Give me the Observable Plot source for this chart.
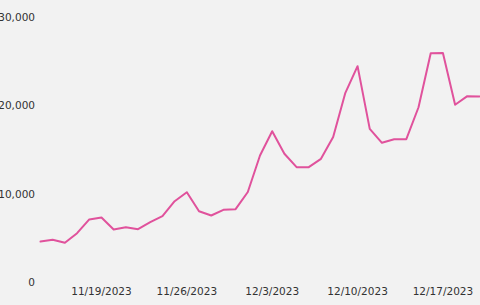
<!DOCTYPE html>
<html>
<head>
<meta charset="utf-8">
<script src="https://cdn.jsdelivr.net/npm/d3@7"></script>
<script src="https://cdn.jsdelivr.net/npm/@observablehq/plot@0.6"></script>
<style>
  html, body { margin: 0; padding: 0; background: #f2f2f2; overflow: hidden; }
  #chart svg { display: block; }
</style>
</head>
<body>
<div id="chart"></div>
<script>
const startDate = "2023-11-14";
const values = [
  4690, 4880, 4540, 5630, 7180, 7400, 6040, 6310, 6080, 6870,
  7550, 9240, 10260, 8110, 7630, 8270, 8340, 10280, 14410, 17150,
  14600, 13090, 13090, 14030, 16500, 21490, 24500, 17420, 15840, 16250,
  16250, 19860, 25970, 26000, 20140, 21110, 21080
];
const tickDates = ["2023-11-19", "2023-11-26", "2023-12-03", "2023-12-10", "2023-12-17"];
const yTicks = [0, 10000, 20000, 30000];

const start = new Date(startDate + "T00:00:00Z");
const data = values.map((v, i) => ({ date: d3.utcDay.offset(start, i), value: v }));
const xTicks = tickDates.map(s => new Date(s + "T00:00:00Z"));
const fmtDate = d3.utcFormat("%-m/%-d/%Y");

const chart = Plot.plot({
  width: 480,
  height: 305,
  marginLeft: 40,
  marginRight: 1,
  marginTop: 17,
  marginBottom: 22.5,
  style: {
    background: "#f2f2f2",
    color: "#333",
    fontFamily: "'DejaVu Sans', Verdana, sans-serif",
    fontSize: "10.5px"
  },
  x: {
    type: "utc",
    domain: [data[0].date, data[data.length - 1].date],
    ticks: xTicks,
    tickFormat: fmtDate,
    tickSize: 0,
    tickPadding: 5,
    label: null
  },
  y: {
    domain: [0, 30000],
    ticks: yTicks,
    tickFormat: d3.format(","),
    tickSize: 0,
    tickPadding: 5.5,
    label: null
  },
  marks: [
    Plot.axisX({ ticks: xTicks, tickFormat: fmtDate, tickSize: 0, tickPadding: 5, label: null, fill: "#333" }),
    Plot.axisY({ ticks: yTicks, tickFormat: d3.format(","), tickSize: 0, tickPadding: 5.5, label: null, fill: "#333" }),
    Plot.line(data, { x: "date", y: "value", stroke: "#e0529c", strokeWidth: 2 })
  ]
});
document.getElementById("chart").appendChild(chart);
</script>
</body>
</html>
